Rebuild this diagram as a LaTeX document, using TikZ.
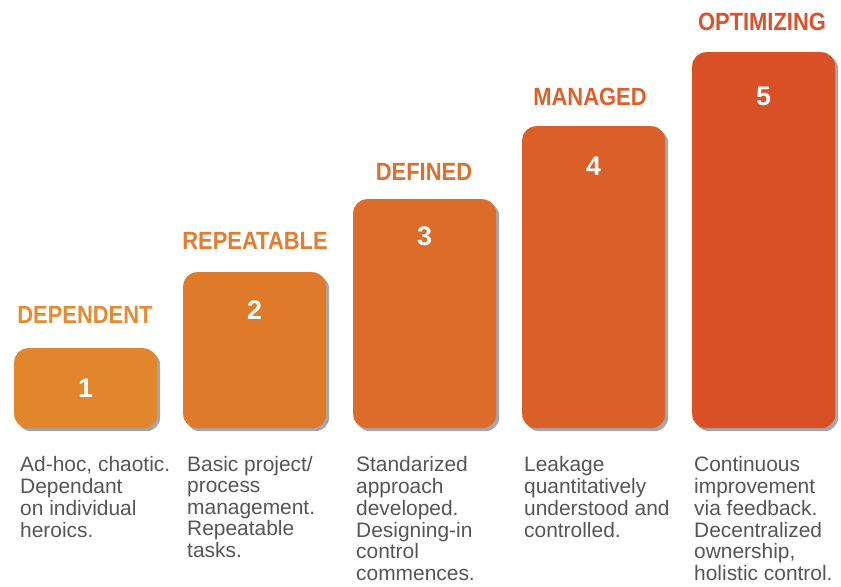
\documentclass[tikz,border=0pt]{standalone}
\usepackage{fontspec}
\setmainfont{Liberation Sans}
\usetikzlibrary{shadows}
\definecolor{c1}{HTML}{E2862B}
\definecolor{c2}{HTML}{E07A2B}
\definecolor{c3}{HTML}{DD6C2A}
\definecolor{c4}{HTML}{DB5F29}
\definecolor{c5}{HTML}{D94F26}
\definecolor{h1}{HTML}{E48A30}
\definecolor{h2}{HTML}{E27C30}
\definecolor{h3}{HTML}{DF6E2E}
\definecolor{h4}{HTML}{DD602C}
\definecolor{h5}{HTML}{DC502B}
\definecolor{desccol}{HTML}{555555}
\newcommand{\headtext}[1]{\scalebox{0.88}[1]{#1}}
\begin{document}
\begin{tikzpicture}[x=1bp,y=-1bp,
  bar/.style={fill=#1, draw=none, rounded corners=14bp, minimum width=143bp, inner sep=0pt,
    anchor=north west,
    drop shadow={shadow xshift=3bp, shadow yshift=-3bp, opacity=0.35, fill=black}},
  num/.style={text=white, font=\bfseries\fontsize{27}{27}\selectfont, inner sep=0pt},
  lab/.style={text=#1, font=\bfseries\fontsize{25}{25}\selectfont, inner sep=0pt},
  desc/.style={text=desccol, font=\fontsize{21}{21.6}\selectfont, align=left, inner sep=0pt, anchor=north west}]
\useasboundingbox (0,0) rectangle (841,587);
% bars
\node[bar=c1, minimum height=80bp] (b1) at (14,348) {};
\node[bar=c2, minimum height=156bp] (b2) at (183,272) {};
\node[bar=c3, minimum height=229bp] (b3) at (353,199) {};
\node[bar=c4, minimum height=302bp] (b4) at (522,126) {};
\node[bar=c5, minimum height=376bp] (b5) at (692,52) {};
% numbers
\node[num] (n1) at (b1.center) {1};
\node[num] (n2) at ([yshift=-38bp]b2.north) {2};
\node[num] (n3) at ([yshift=-37bp]b3.north) {3};
\node[num] (n4) at ([yshift=-40bp]b4.north) {4};
\node[num] (n5) at ([yshift=-44bp]b5.north) {5};
% headings
\node[lab=h1] (l1) at (85,315) {\headtext{DEPENDENT}};
\node[lab=h2] (l2) at (255,241) {\headtext{REPEATABLE}};
\node[lab=h3] (l3) at (424,172) {\headtext{DEFINED}};
\node[lab=h4] (l4) at (590,97) {\headtext{MANAGED}};
\node[lab=h5] (l5) at (762,22) {\headtext{OPTIMIZING}};
% descriptions
\node[desc] (d1) at (20,456) {\strut Ad-hoc, chaotic.\\Dependant\\on individual\\heroics.};
\node[desc] (d2) at (187,456) {\strut Basic project/\\process\\management.\\Repeatable\\tasks.};
\node[desc] (d3) at (356,456) {\strut Standarized\\approach\\developed.\\Designing-in\\control\\commences.};
\node[desc] (d4) at (524,456) {\strut Leakage\\quantitatively\\understood and\\controlled.};
\node[desc] (d5) at (694,456) {\strut Continuous\\improvement\\via feedback.\\Decentralized\\ownership,\\holistic control.};
\end{tikzpicture}
\end{document}
